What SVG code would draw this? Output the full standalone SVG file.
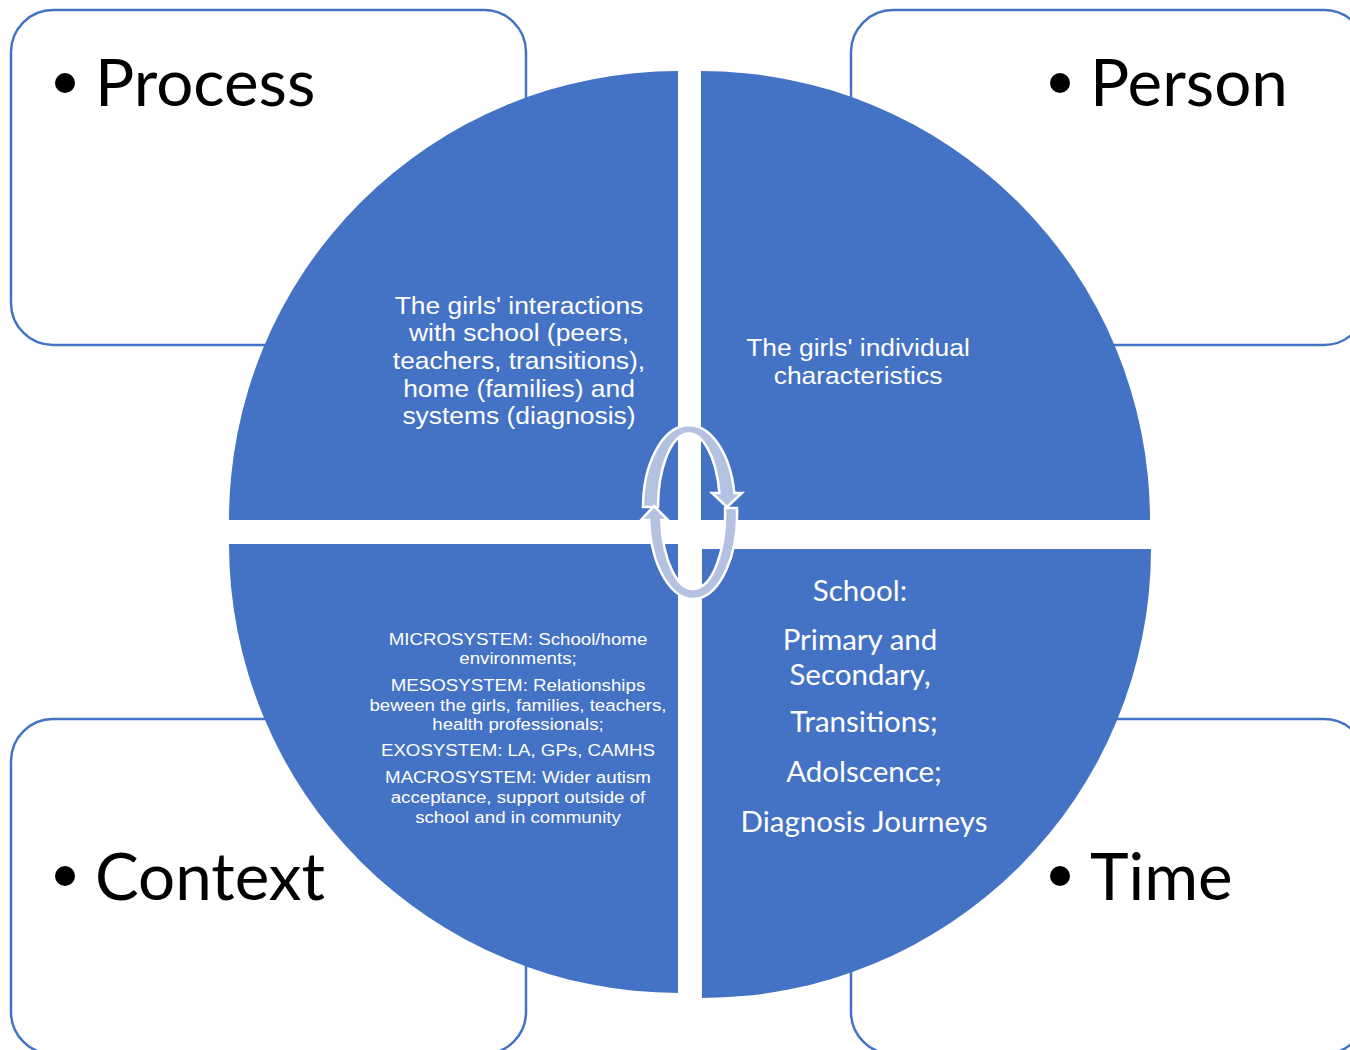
<svg xmlns="http://www.w3.org/2000/svg" width="1350" height="1050" viewBox="0 0 1350 1050">
<style>
.box{fill:#fff;stroke:#4472C4;stroke-width:2.5}
.q{fill:#4472C4}
.lbl{font-family:Lato,"Open Sans",sans-serif;font-size:65.5px;fill:#000}
.bul{fill:#000}
.ar{font-family:"Liberation Sans",Arial,sans-serif;fill:#fff;text-anchor:middle}
.t24{font-size:24px}
.t17{font-size:17px}
.cal{font-family:Lato,"Open Sans",sans-serif;font-size:29.5px;fill:#fff;text-anchor:middle}
.arrow{fill:#B4C1E0;stroke:#fff;stroke-width:2.5;stroke-linejoin:miter}
</style>
<rect width="1350" height="1050" fill="#fff"/>
<g id="box-process"><rect class="box" x="11" y="10" width="515" height="335" rx="42"/><circle class="bul" cx="65" cy="83" r="10"/><text class="lbl" x="95" y="106">Process</text></g>
<g id="box-person"><rect class="box" x="851" y="10" width="515" height="335" rx="42"/><circle class="bul" cx="1060" cy="83" r="10"/><text class="lbl" x="1090" y="106">Person</text></g>
<g id="box-context"><rect class="box" x="11" y="719" width="515" height="335" rx="42"/><circle class="bul" cx="65" cy="876" r="10"/><text class="lbl" x="95" y="900">Context</text></g>
<g id="box-time"><rect class="box" x="851" y="719" width="515" height="335" rx="42"/><circle class="bul" cx="1060" cy="876" r="10"/><text class="lbl" x="1090" y="900">Time</text></g>
<g id="quad-process"><path class="q" d="M678,520 L229,520 A449,449 0 0 1 678,71 Z"/>
<text class="ar t24" transform="translate(519 0) scale(1.1 1)"><tspan x="0" y="314">The girls' interactions</tspan><tspan x="0" y="341">with school (peers,</tspan><tspan x="0" y="369">teachers, transitions),</tspan><tspan x="0" y="397">home (families) and</tspan><tspan x="0" y="424">systems (diagnosis)</tspan></text></g>
<g id="quad-person"><path class="q" d="M701,520 L701,71 A449,449 0 0 1 1150,520 Z"/>
<text class="ar t24" transform="translate(858 0) scale(1.1 1)"><tspan x="0" y="356">The girls' individual</tspan><tspan x="0" y="384">characteristics</tspan></text></g>
<g id="quad-context"><path class="q" d="M678,544 L678,993 A449,449 0 0 1 229,544 Z"/>
<text class="ar t17" transform="translate(518 0) scale(1.1 1)"><tspan x="0" y="645">MICROSYSTEM: School/home</tspan><tspan x="0" y="664">environments;</tspan><tspan x="0" y="691">MESOSYSTEM: Relationships</tspan><tspan x="0" y="711">beween the girls, families, teachers,</tspan><tspan x="0" y="730">health professionals;</tspan><tspan x="0" y="756">EXOSYSTEM: LA, GPs, CAMHS</tspan><tspan x="0" y="783">MACROSYSTEM: Wider autism</tspan><tspan x="0" y="803">acceptance, support outside of</tspan><tspan x="0" y="823">school and in community</tspan></text></g>
<g id="quad-time"><path class="q" d="M702,549 L1151,549 A449,449 0 0 1 702,998 Z"/>
<text class="cal"><tspan x="860" y="601">School:</tspan><tspan x="860" y="650">Primary and</tspan><tspan x="860" y="685">Secondary,</tspan><tspan x="864" y="732">Transitions;</tspan><tspan x="864" y="782">Adolscence;</tspan><tspan x="864" y="832">Diagnosis Journeys</tspan></text></g>
<g id="connectors">
<path class="arrow" d="M643,507 A46,82 0 0 1 734.3,493 L742,493 L727,507 L712,493 L719.4,493 A31,74 0 0 0 658,507 Z"/>
<path class="arrow" d="M737,508 A44,85 0 0 1 649.2,520 L641,520 L654,506 L668,520 L661.2,520 A32,75 0 0 0 725,508 Z"/>
</g>
</svg>
